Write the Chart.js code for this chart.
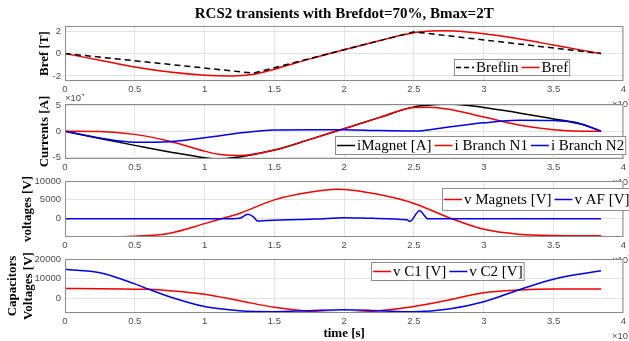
<!DOCTYPE html>
<html>
<head>
<meta charset="utf-8">
<script src="https://cdn.jsdelivr.net/npm/chart.js@4.4.1/dist/chart.umd.min.js"></script>
<style>
  html, body { margin: 0; padding: 0; background: #fff; }
  #wrap { position: relative; width: 629px; height: 341px; overflow: hidden; }
  #wrap canvas { position: absolute; left: 0; }
</style>
</head>
<body>
<div id="wrap">
  <canvas id="c1" width="629" height="112" style="top:0px"></canvas>
  <canvas id="c2" width="629" height="96" style="top:94px"></canvas>
  <canvas id="c3" width="629" height="97" style="top:171px"></canvas>
  <canvas id="c4" width="629" height="92" style="top:249px"></canvas>
</div>
<script>
// time is in ms, the axis carries the x10^-3 factor like the original figure
var xTicks = [0, 0.5, 1, 1.5, 2, 2.5, 3, 3.5, 4];

// panel 1 - Bref [T]
var tBref = [0, 0.25, 0.5, 0.75, 1.0, 1.2, 1.35, 1.5, 1.75, 2.0, 2.25, 2.4, 2.55, 2.7, 2.9, 3.1, 3.3, 3.5, 3.7, 3.84];
var bref = [0, -0.6, -1.2, -1.65, -1.93, -2.0, -1.85, -1.4, -0.5, 0.33, 1.13, 1.6, 1.93, 2.03, 1.9, 1.6, 1.2, 0.75, 0.3, 0];
var tBreflin = [0, 1.35, 2.5, 3.84];
var breflin = [0, -1.75, 1.93, 0];
var brefTicks = [-2, 0, 2];

// panel 2 - currents [A]
var tCur = [0, 0.25, 0.5, 0.75, 1.0, 1.1, 1.25, 1.5, 1.75, 2.0, 2.25, 2.5, 2.6, 2.75, 3.0, 3.25, 3.5, 3.7, 3.84];
var iMagnet = [0, -14000, -27000, -39500, -50500, -53000, -49000, -36000, -16000, 5000, 26000, 46500, 49500, 52000, 45500, 35000, 23500, 14000, 0];
var iBranchN1 = [0, -500, -6000, -19000, -38000, -44000, -46500, -36000, -16000, 5000, 26000, 45500, 46000, 42000, 27000, 12000, 3000, 200, 0];
var iBranchN2 = [0, -13000, -21000, -20000, -12500, -9000, -3500, 2500, 3000, 3000, 1200, 300, 2500, 8000, 16000, 21000, 20500, 13500, 0];
var curTicks = [-50000, 0, 50000];

// panel 3 - voltages [V]
var tVmag = [0, 0.25, 0.5, 0.75, 1.0, 1.12, 1.25, 1.5, 1.75, 1.95, 2.25, 2.5, 2.75, 3.0, 3.25, 3.5, 3.84];
var vMagnets = [-4800, -4800, -4650, -3850, -1300, 0, 1400, 5000, 7000, 7800, 6400, 4050, 300, -2800, -4100, -4470, -4550];
var tVaf = [0, 1.2, 1.25, 1.31, 1.35, 1.38, 1.45, 1.6, 1.8, 2.0, 2.2, 2.45, 2.47, 2.54, 2.6, 2.7, 3.84];
var vAF = [0, 0, 100, 1200, 500, -600, -450, -300, -100, 250, 100, -300, -700, 2100, 0, 0, 0];
var voltTicks = [0, 5000, 10000];

// panel 4 - capacitor voltages [V]
var tCap = [0, 0.25, 0.5, 0.6, 0.75, 1.0, 1.25, 1.5, 1.75, 2.0, 2.25, 2.5, 2.75, 3.0, 3.25, 3.5, 3.84];
var vC1 = [4900, 4850, 4600, 4500, 3800, 2000, -1300, -4700, -6700, -7500, -6450, -4250, -900, 2800, 4200, 4700, 4700];
var vC2 = [14700, 13000, 7300, 4500, 700, -4300, -6450, -6900, -6400, -5950, -6450, -6950, -5600, -1850, 4200, 9700, 14000];
var capTicks = [0, 10000, 20000];

var RED = '#f00000';
var BLUE = '#0000e6';
var TICK_FONT = { family: '"Liberation Sans", Arial, sans-serif', size: 9.5 };
var SERIF = '"Liberation Serif", "Times New Roman", serif';

function pts(xs, ys) {
  return xs.map(function(x, i) { return { x: x, y: ys[i] }; });
}

function line(label, xs, ys, color, order, dash) {
  return {
    label: label,
    data: pts(xs, ys),
    borderColor: color,
    borderWidth: 1.5,
    borderDash: dash || [],
    pointRadius: 0,
    fill: false,
    cubicInterpolationMode: dash ? 'default' : 'monotone',
    tension: 0,
    order: order
  };
}

// white plot area, grey box, x10^n labels and the framed legend
var matlabAxes = {
  id: 'matlabAxes',
  beforeDraw: function(chart) {
    var a = chart.chartArea, ctx = chart.ctx;
    ctx.save();
    ctx.fillStyle = '#fff';
    ctx.fillRect(a.left, a.top, a.right - a.left, a.bottom - a.top);
    ctx.restore();
  },
  afterDraw: function(chart, args, opts) {
    var a = chart.chartArea, ctx = chart.ctx;
    ctx.save();
    ctx.strokeStyle = '#8c8c8c';
    ctx.lineWidth = 1;
    ctx.strokeRect(a.left + 0.5, a.top + 0.5, a.right - a.left - 1, a.bottom - a.top - 1);

    ctx.fillStyle = '#4d4d4d';
    ctx.textBaseline = 'middle';
    ctx.textAlign = 'left';
    // x exponent, bottom right
    ctx.font = '9.5px "Liberation Sans"';
    var ex = 612, w10 = ctx.measureText('\u00d710').width;
    ctx.fillText('\u00d710', ex, a.bottom + 23);
    ctx.font = '7px "Liberation Sans"';
    ctx.fillText('-3', ex + w10, a.bottom + 18);
    // y exponent, top left
    if (opts.yExp) {
      ctx.font = '9.5px "Liberation Sans"';
      ctx.fillText('\u00d710', a.left, a.top - 6);
      ctx.font = '7px "Liberation Sans"';
      ctx.fillText(opts.yExp, a.left + w10, a.top - 10);
    }

    // legend box
    var lg = opts.legend;
    if (lg) {
      var dsets = chart.data.datasets;
      ctx.font = '15px ' + SERIF;
      var widths = dsets.map(function(d) { return ctx.measureText(d.label).width; });
      var w = 2;
      widths.forEach(function(tw, i) { w += 18 + 2 + tw + (i < widths.length - 1 ? 3 : 2); });
      var bx = lg.x, by = lg.y - opts.canvasTop;
      ctx.fillStyle = '#fff';
      ctx.fillRect(bx, by, w, lg.h);
      ctx.strokeStyle = '#8c8c8c';
      ctx.strokeRect(bx + 0.5, by + 0.5, w - 1, lg.h - 1);
      var cx = bx + 2, cy = by + lg.h / 2;
      dsets.forEach(function(d, i) {
        ctx.strokeStyle = d.borderColor;
        ctx.lineWidth = 1.5;
        ctx.setLineDash(d.borderDash.length ? [5, 3] : []);
        ctx.beginPath();
        ctx.moveTo(cx, cy);
        ctx.lineTo(cx + 18, cy);
        ctx.stroke();
        ctx.setLineDash([]);
        ctx.fillStyle = '#000';
        ctx.fillText(d.label, cx + 20, cy + 1);
        cx += 18 + 2 + widths[i] + 3;
      });
    }
    ctx.restore();
  }
};

function makePanel(id, p) {
  return new Chart(document.getElementById(id), {
    type: 'line',
    data: { datasets: p.datasets },
    options: {
      responsive: false,
      animation: false,
      events: [],
      layout: { padding: { top: p.padTop, right: 4, bottom: p.padBottom, left: 0 } },
      plugins: {
        legend: { display: false },
        tooltip: { enabled: false },
        title: p.title || { display: false },
        matlabAxes: { canvasTop: p.canvasTop, legend: p.legend, yExp: p.yExp }
      },
      scales: {
        x: {
          type: 'linear',
          min: 0,
          max: 4,
          afterBuildTicks: function(s) { s.ticks = xTicks.map(function(v) { return { value: v }; }); },
          afterFit: function(s) { s.height = p.xHeight; },
          grid: { color: '#e3e3e3', drawTicks: false },
          border: { display: false },
          ticks: { font: TICK_FONT, color: '#4d4d4d', padding: 3, maxRotation: 0,
                   callback: function(v) { return String(v); } },
          title: p.xTitle || { display: false }
        },
        y: {
          min: p.yMin,
          max: p.yMax,
          afterBuildTicks: function(s) { s.ticks = p.yTicks.map(function(v) { return { value: v }; }); },
          afterFit: function(s) { s.width = 65; },
          grid: { color: '#e3e3e3', drawTicks: false },
          border: { display: false },
          ticks: { font: TICK_FONT, color: '#4d4d4d', padding: 4,
                   callback: function(v) { return String(p.yDiv ? v / p.yDiv : v); } },
          title: {
            display: true,
            text: p.yTitle,
            color: '#000',
            font: { family: SERIF, size: 13, weight: 'bold' },
            padding: { top: p.yTitlePad, bottom: 0 }
          }
        }
      }
    },
    plugins: [matlabAxes]
  });
}

makePanel('c1', {
  canvasTop: 0, padTop: 0, padBottom: 12, xHeight: 19,
  title: {
    display: true,
    text: 'RCS2 transients with Brefdot=70%, Bmax=2T',
    color: '#000',
    fullSize: false,
    font: { family: SERIF, size: 15, weight: 'bold' },
    padding: { top: 5, bottom: 3 }
  },
  datasets: [
    line('Breflin', tBreflin, breflin, '#000', 1, [6, 4]),
    line('Bref', tBref, bref, RED, 2)
  ],
  yMin: -2.45, yMax: 2.45, yTicks: brefTicks,
  yTitle: 'Bref [T]', yTitlePad: 37,
  legend: { x: 454, y: 59, h: 17 }
});

makePanel('c2', {
  canvasTop: 94, padTop: 10, padBottom: 12, xHeight: 19,
  datasets: [
    line('iMagnet [A]', tCur, iMagnet, '#000', 3),
    line('i Branch N1', tCur, iBranchN1, RED, 2),
    line('i Branch N2', tCur, iBranchN2, BLUE, 1)
  ],
  yMin: -53000, yMax: 52000, yTicks: curTicks, yDiv: 10000, yExp: '4',
  yTitle: 'Currents [A]', yTitlePad: 37,
  legend: { x: 335, y: 136, h: 19 }
});

makePanel('c3', {
  canvasTop: 171, padTop: 10, padBottom: 12, xHeight: 19,
  datasets: [
    line('v Magnets [V]', tVmag, vMagnets, RED, 2),
    line('v AF [V]', tVaf, vAF, BLUE, 1)
  ],
  yMin: -4850, yMax: 10000, yTicks: voltTicks,
  yTitle: 'voltages [V]', yTitlePad: 20,
  legend: { x: 442, y: 188, h: 23 }
});

makePanel('c4', {
  canvasTop: 249, padTop: 10, padBottom: 0, xHeight: 28,
  xTitle: {
    display: true,
    text: 'time [s]',
    color: '#000',
    font: { family: SERIF, size: 13, weight: 'bold' },
    padding: 0
  },
  datasets: [
    line('v C1 [V]', tCap, vC1, RED, 2),
    line('v C2 [V]', tCap, vC2, BLUE, 1)
  ],
  yMin: -7600, yMax: 20000, yTicks: capTicks,
  yTitle: ['Capacitors', 'Voltages [V]'], yTitlePad: 5,
  legend: { x: 371, y: 262, h: 19 }
});
</script>
</body>
</html>
